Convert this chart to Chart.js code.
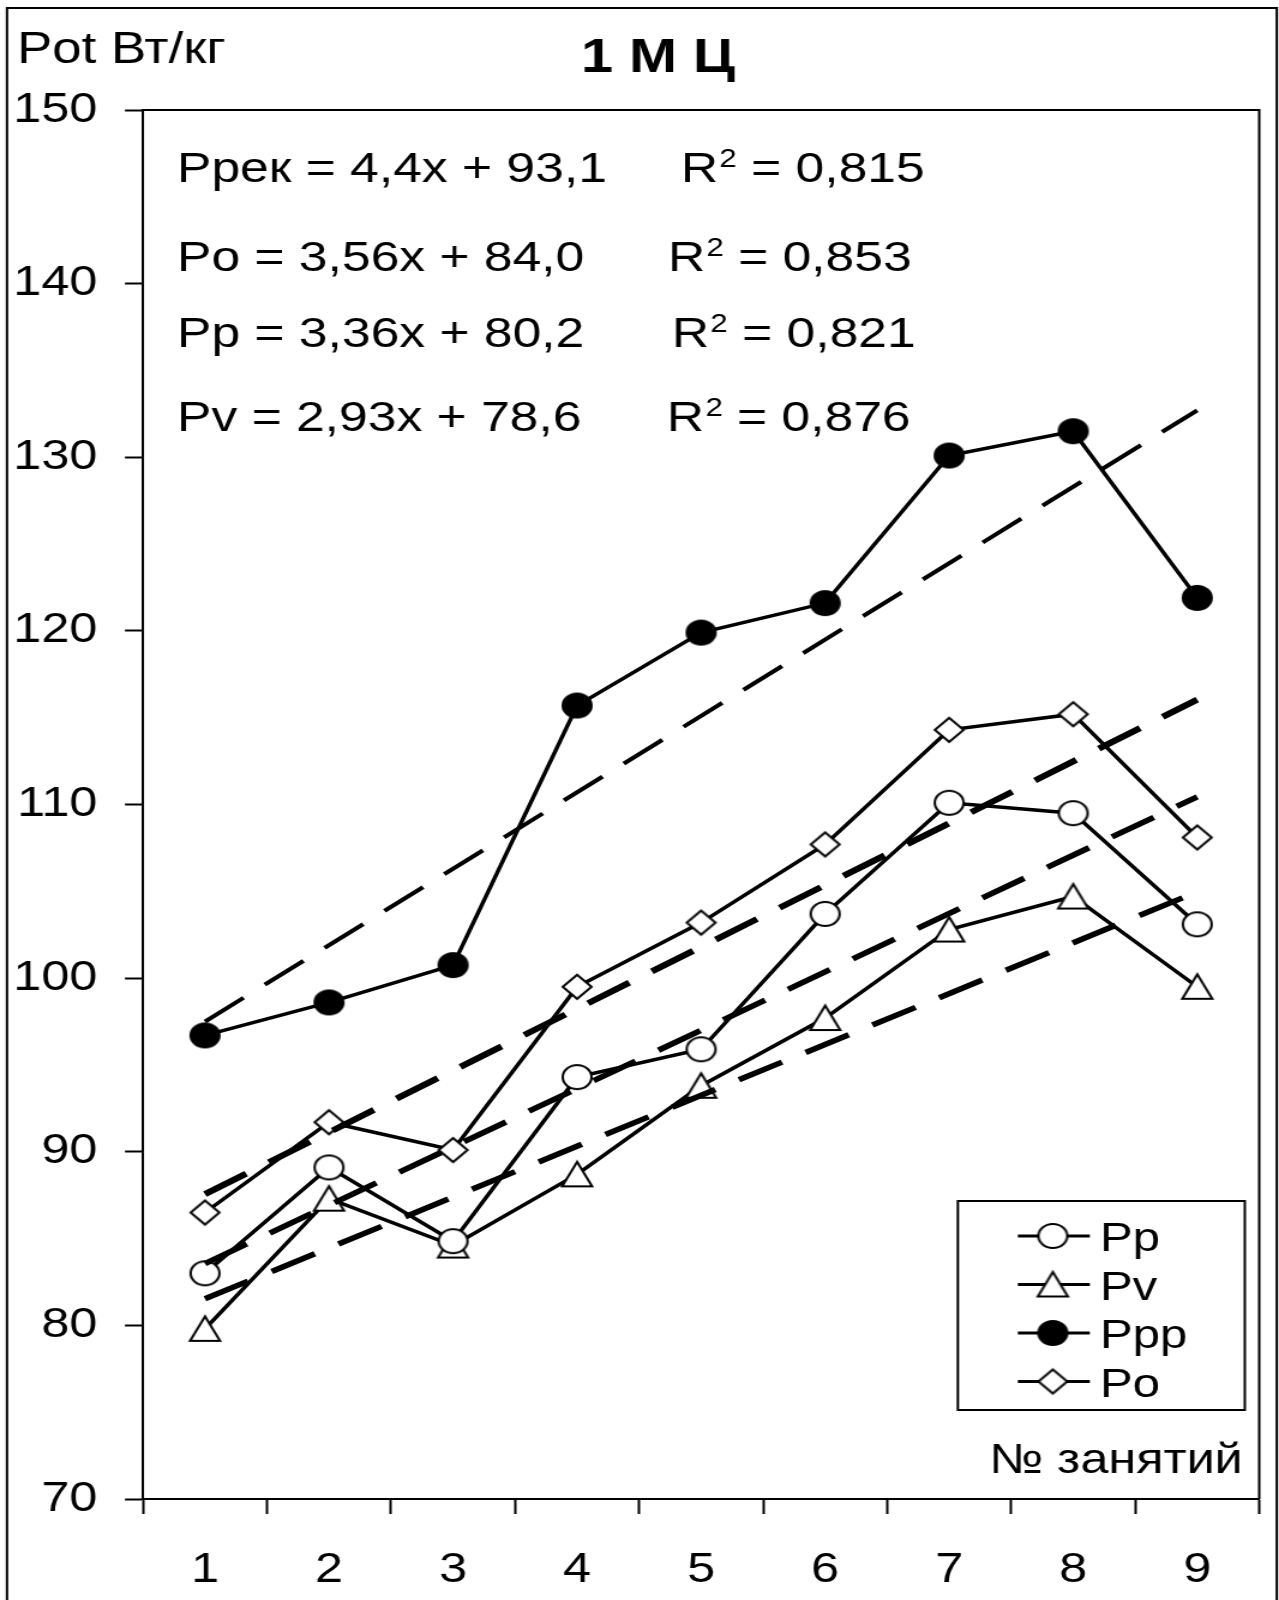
<!DOCTYPE html>
<html>
<head>
<meta charset="utf-8">
<title>1 М Ц</title>
<script src="https://cdn.jsdelivr.net/npm/chart.js@4/dist/chart.umd.min.js"></script>
<style>
  html, body { margin: 0; padding: 0; background: #fff; overflow: hidden; }
  #chart { display: block; }
</style>
</head>
<body>
<!-- drawn narrow and shown stretched sideways, like the original sheet -->
<canvas id="chart" width="1066" height="1600" style="width:1279px;height:1600px"></canvas>
<script>
// session numbers
const sessions = ["1", "2", "3", "4", "5", "6", "7", "8", "9"];

// power per kg for each session
const pp = [83.0, 89.1, 84.85, 94.3, 95.9, 103.7, 110.1, 109.5, 103.1];
const pv = [79.8, 87.3, 84.6, 88.7, 93.8, 97.7, 102.8, 104.7, 99.5];
const ppp = [96.7, 98.6, 100.75, 115.7, 119.9, 121.6, 130.1, 131.5, 121.9];
const po = [86.5, 91.7, 90.1, 99.5, 103.2, 107.7, 114.3, 115.2, 108.1];

// linear trends, in the order they are printed
const trendNames = ["Ррек", "Po", "Pp", "Pv"];
const trendSlope = [4.4, 3.56, 3.36, 2.93];
const trendIntercept = [93.1, 84.0, 80.2, 78.6];
const trendR2 = ["0,815", "0,853", "0,821", "0,876"];
const trendWidth = [4, 6, 5.5, 5.5];

const yTicks = { min: 70, max: 150, step: 10 };

const SX = 1.2; // horizontal stretch of the canvas
const FONT = '"Liberation Sans", Arial, sans-serif';

// marker images, so the legend can reuse them
function marker(shape, filled) {
  const c = document.createElement("canvas");
  c.width = 34;
  c.height = 34;
  const g = c.getContext("2d");
  g.lineWidth = 2;
  g.strokeStyle = "#000";
  g.fillStyle = filled ? "#000" : "#fff";
  g.beginPath();
  if (shape === "circle") {
    g.arc(17, 17, 12, 0, Math.PI * 2);
  } else if (shape === "diamond") {
    g.moveTo(17, 5);
    g.lineTo(29, 17);
    g.lineTo(17, 29);
    g.lineTo(5, 17);
    g.closePath();
  } else {
    g.moveTo(17, 4.5);
    g.lineTo(29.5, 29);
    g.lineTo(4.5, 29);
    g.closePath();
  }
  g.fill();
  g.stroke();
  return c;
}

const series = [
  { label: "Pp", data: pp, style: marker("circle", false) },
  { label: "Pv", data: pv, style: marker("triangle", false) },
  { label: "Ppp", data: ppp, style: marker("circle", true) },
  { label: "Po", data: po, style: marker("diamond", false) },
];

const datasets = series.map((s) => ({
  label: s.label,
  data: s.data,
  borderColor: "#000",
  borderWidth: 3.5,
  pointStyle: s.style,
  pointRadius: 13,
  tension: 0,
  fill: false,
  order: 2,
}));

// dashed trend lines from the printed equations
trendSlope.forEach((k, i) => {
  const b = trendIntercept[i];
  datasets.push({
    label: "trend " + trendNames[i],
    data: [
      { x: sessions[0], y: k * 1 + b },
      { x: sessions[sessions.length - 1], y: k * sessions.length + b },
    ],
    borderColor: "#000",
    borderWidth: trendWidth[i],
    borderDash: [40, 22],
    borderCapStyle: "butt",
    pointRadius: 0,
    fill: false,
    order: 1,
  });
});

function fmt(v, digits) {
  const s = digits === undefined ? String(v) : v.toFixed(digits);
  return s.replace(".", ",");
}

const decorations = {
  id: "decorations",
  beforeDraw(chart) {
    const ctx = chart.ctx;
    ctx.save();
    ctx.fillStyle = "#fff";
    ctx.fillRect(0, 0, chart.width, chart.height);
    ctx.strokeStyle = "#000";
    ctx.lineWidth = 2;
    ctx.strokeRect(7 / SX, 8, 1277 / SX - 7 / SX, 1700);
    ctx.restore();
  },
  beforeDatasetsDraw(chart) {
    const { ctx, chartArea } = chart;
    ctx.save();
    ctx.strokeStyle = "#000";
    ctx.lineWidth = 2;
    ctx.beginPath();
    ctx.moveTo(chartArea.left, chartArea.top);
    ctx.lineTo(chartArea.right, chartArea.top);
    ctx.lineTo(chartArea.right, chartArea.bottom);
    ctx.stroke();
    ctx.restore();
  },
  afterDraw(chart) {
    const ctx = chart.ctx;
    ctx.save();
    ctx.fillStyle = "#000";
    ctx.textBaseline = "alphabetic";

    // axis captions and title
    ctx.font = "44px " + FONT;
    ctx.textAlign = "left";
    ctx.fillText("Pot Вт/кг", 17 / SX, 63);
    ctx.font = "bold 48px " + FONT;
    ctx.textAlign = "center";
    ctx.fillText("1 М Ц", 658 / SX, 72);
    ctx.font = "42px " + FONT;
    ctx.textAlign = "right";
    ctx.fillText("№ занятий", 1243 / SX, 1473);

    // trend equations
    const rowY = [182, 271, 347, 431];
    const rX = [681, 668, 672, 667];
    ctx.textAlign = "left";
    trendSlope.forEach((k, i) => {
      ctx.font = "43px " + FONT;
      const eq = trendNames[i] + " = " + fmt(k) + "x + " + fmt(trendIntercept[i], 1);
      ctx.fillText(eq, 177 / SX, rowY[i]);
      let x = rX[i] / SX;
      ctx.fillText("R", x, rowY[i]);
      x += ctx.measureText("R").width;
      ctx.font = "26px " + FONT;
      ctx.fillText("2", x + 1, rowY[i] - 15);
      x += ctx.measureText("2").width + 1;
      ctx.font = "43px " + FONT;
      ctx.fillText(" = " + trendR2[i], x, rowY[i]);
    });

    // legend box
    const box = { l: 958 / SX, t: 1201, r: 1245 / SX, b: 1410 };
    ctx.fillStyle = "#fff";
    ctx.fillRect(box.l, box.t, box.r - box.l, box.b - box.t);
    ctx.strokeStyle = "#000";
    ctx.lineWidth = 2;
    ctx.strokeRect(box.l, box.t, box.r - box.l, box.b - box.t);
    ctx.fillStyle = "#000";
    ctx.font = "41px " + FONT;
    series.forEach((s, i) => {
      const y = 1236 + i * 48.5;
      ctx.lineWidth = 3;
      ctx.beginPath();
      ctx.moveTo(1018 / SX, y);
      ctx.lineTo(1090 / SX, y);
      ctx.stroke();
      ctx.drawImage(s.style, 1053 / SX - 17, y - 17);
      ctx.fillText(s.label, 1100 / SX, y + 15);
    });
    ctx.restore();
  },
};

new Chart(document.getElementById("chart"), {
  type: "line",
  data: { labels: sessions, datasets: datasets },
  options: {
    responsive: false,
    animation: false,
    devicePixelRatio: 1,
    layout: { padding: { top: 110, right: 1066 - 1263 / SX, bottom: 0, left: 0 } },
    plugins: { legend: { display: false }, tooltip: { enabled: false } },
    scales: {
      x: {
        type: "category",
        offset: true,
        grid: {
          offset: true,
          drawOnChartArea: false,
          tickLength: 15,
          tickWidth: 2,
          tickColor: "#000",
        },
        border: { color: "#000", width: 2 },
        ticks: { color: "#000", font: { family: FONT, size: 42 }, padding: 31 },
        afterFit: (s) => { s.height = 101; },
      },
      y: {
        min: yTicks.min,
        max: yTicks.max,
        ticks: {
          stepSize: yTicks.step,
          color: "#000",
          font: { family: FONT, size: 42 },
          padding: 23,
        },
        grid: {
          drawOnChartArea: false,
          tickLength: 15,
          tickWidth: 2,
          tickColor: "#000",
        },
        border: { color: "#000", width: 2 },
        afterFit: (s) => { s.width = 143 / SX; },
      },
    },
  },
  plugins: [decorations],
});
</script>
</body>
</html>
